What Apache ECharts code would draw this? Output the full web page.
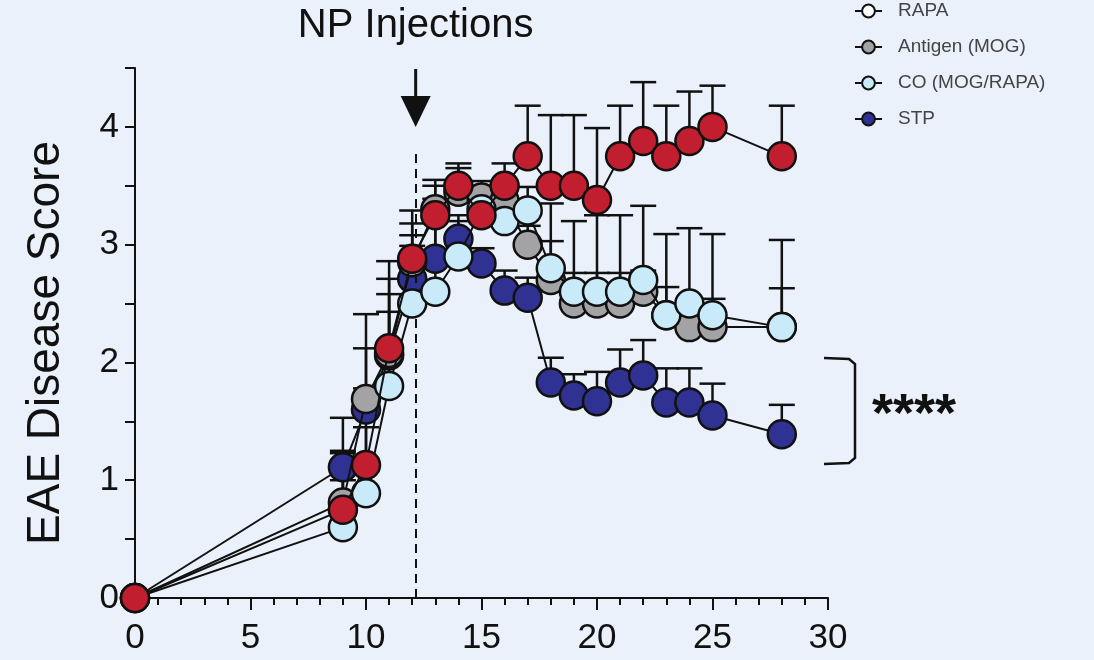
<!DOCTYPE html>
<html>
<head>
<meta charset="utf-8">
<title>EAE Disease Score</title>
<script src="https://cdn.jsdelivr.net/npm/echarts@6/dist/echarts.min.js"></script>
<style>
  html, body { margin: 0; padding: 0; background: #eaf1fb; }
  #chart { width: 1094px; height: 660px; }
</style>
</head>
<body>
<div id="chart"></div>
<script>
// days after immunization
const days = [0, 9, 10, 11, 12, 13, 14, 15, 16, 17, 18, 19, 20, 21, 22, 23, 24, 25, 28];

// mean scores + upper error (SEM) per group
const pbsMean = [0, 0.75, 1.13, 2.12, 2.88, 3.25, 3.5, 3.25, 3.5, 3.75, 3.5, 3.5, 3.38, 3.75, 3.88, 3.75, 3.88, 4.0, 3.75];
const pbsErr = [0, 0.48, 0.65, 0.74, 0.41, 0.3, 0.19, 0.24, 0.19, 0.43, 0.6, 0.6, 0.61, 0.43, 0.5, 0.43, 0.42, 0.35, 0.43];

const mogMean = [0, 0.81, 1.69, 2.08, 2.85, 3.3, 3.45, 3.4, 3.37, 3.0, 2.7, 2.5, 2.5, 2.5, 2.6, 2.4, 2.3, 2.3, 2.3];
const mogErr = [0, 0.44, 0.72, 0.63, 0.33, 0.2, 0.2, 0.14, 0.13, 0.16, 0.33, 0.26, 0.26, 0.26, 0.18, 0.24, 0.25, 0.24, 0.33];

const coMean = [0, 0.6, 0.89, 1.8, 2.5, 2.6, 2.9, 3.3, 3.2, 3.29, 2.8, 2.6, 2.6, 2.6, 2.7, 2.4, 2.5, 2.4, 2.3];
const coErr = [0, 0.4, 0.56, 0.63, 0.49, 0.79, 0.3, 0.2, 0.2, 0.2, 0.55, 0.6, 0.65, 0.65, 0.63, 0.69, 0.64, 0.69, 0.74];

const stpMean = [0, 1.11, 1.6, 2.06, 2.71, 2.88, 3.05, 2.84, 2.61, 2.55, 1.83, 1.72, 1.67, 1.83, 1.89, 1.66, 1.66, 1.55, 1.39];
const stpErr = [0, 0.42, 0.52, 0.52, 0.37, 0.37, 0.2, 0.13, 0.17, 0.17, 0.21, 0.18, 0.25, 0.28, 0.3, 0.29, 0.29, 0.27, 0.25];

const injectionDay = 12.15;
const xTicks = [0, 5, 10, 15, 20, 25, 30];
const yTicks = [0, 1, 2, 3, 4];

const INK = "#111";
const textFont = "'Liberation Sans', Arial, sans-serif";

function points(mean) {
  return days.map((d, i) => [d, mean[i]]);
}
function bars(mean, err) {
  return days.map((d, i) => [d, mean[i], mean[i] + err[i]]).filter((r) => r[2] > r[1]);
}

function renderErr(params, api) {
  const p0 = api.coord([api.value(0), api.value(1)]);
  const p1 = api.coord([api.value(0), api.value(2)]);
  const st = { stroke: INK, lineWidth: 2.5 };
  return {
    type: "group",
    children: [
      { type: "line", shape: { x1: p0[0], y1: p0[1], x2: p1[0], y2: p1[1] }, style: st },
      { type: "line", shape: { x1: p1[0] - 13, y1: p1[1], x2: p1[0] + 13, y2: p1[1] }, style: st }
    ]
  };
}

function lineSeries(name, mean, fill, z) {
  return {
    name: name,
    type: "line",
    data: points(mean),
    z: z,
    clip: false,
    symbol: "circle",
    symbolSize: 28,
    lineStyle: { color: INK, width: 2 },
    itemStyle: { color: fill, borderColor: INK, borderWidth: 2.5 },
    emphasis: { disabled: true }
  };
}
function errSeries(mean, err) {
  return {
    type: "custom",
    data: bars(mean, err),
    renderItem: renderErr,
    z: 1,
    silent: true,
    clip: false
  };
}

const chart = echarts.init(document.getElementById("chart"));

const red = lineSeries("Untreated", pbsMean, "#c11f2f", 6);
red.markLine = {
  silent: true,
  symbol: "none",
  label: { show: false },
  lineStyle: { color: INK, width: 2, type: [9, 6] },
  data: [[{ coord: [injectionDay, 0] }, { coord: [injectionDay, 3.8] }]]
};

chart.setOption({
  animation: false,
  backgroundColor: "#eaf1fb",
  grid: { left: 135, right: 266, top: 68, bottom: 62 },
  legend: {
    data: ["RAPA", "Antigen (MOG)", "CO (MOG/RAPA)", "STP"],
    orient: "vertical",
    left: 849,
    top: -4,
    itemWidth: 27,
    itemHeight: 16,
    itemGap: 16,
    selectedMode: false,
    textStyle: { fontFamily: textFont, fontSize: 19, color: "#444", lineHeight: 20, padding: [0, 0, 0, 11] }
  },
  xAxis: {
    type: "value",
    min: 0,
    max: 30,
    interval: 5,
    axisLine: { lineStyle: { color: INK, width: 2 } },
    axisTick: { length: 12, lineStyle: { color: INK, width: 2 } },
    minorTick: { show: true, splitNumber: 5, length: 7, lineStyle: { color: INK, width: 2 } },
    splitLine: { show: false },
    axisLabel: {
      fontFamily: textFont, fontSize: 35, color: INK, margin: 23,
      formatter: (v) => (xTicks.includes(v) ? String(v) : "")
    }
  },
  yAxis: {
    type: "value",
    min: 0,
    max: 4.5,
    interval: 0.5,
    name: "EAE Disease Score",
    nameLocation: "middle",
    nameGap: 66,
    nameTextStyle: { fontFamily: textFont, fontSize: 46, color: INK, padding: [0, 20, 0, 0] },
    axisLine: { lineStyle: { color: INK, width: 2 } },
    axisTick: { length: 10, lineStyle: { color: INK, width: 2 } },
    splitLine: { show: false },
    axisLabel: {
      fontFamily: textFont, fontSize: 35, color: INK, margin: 16,
      formatter: (v) => (yTicks.includes(v) ? String(v) : "")
    }
  },
  series: [
    errSeries(stpMean, stpErr),
    errSeries(mogMean, mogErr),
    errSeries(coMean, coErr),
    errSeries(pbsMean, pbsErr),
    lineSeries("RAPA", [], "#ffffff", 2),
    lineSeries("STP", stpMean, "#2f3293", 3),
    lineSeries("Antigen (MOG)", mogMean, "#a3a3a6", 4),
    lineSeries("CO (MOG/RAPA)", coMean, "#c9eaf9", 5),
    red
  ]
});

// annotations: injection arrow + label, significance bracket
const arrowTop = chart.convertToPixel({ gridIndex: 0 }, [injectionDay, 4.5]);
const arrowTip = chart.convertToPixel({ gridIndex: 0 }, [injectionDay, 4.0]);
const ax = arrowTip[0];
chart.setOption({
  graphic: [
    {
      type: "text",
      x: ax,
      y: 6,
      style: { text: "NP Injections", align: "center", verticalAlign: "top", font: "40px " + textFont, fill: INK }
    },
    {
      type: "line",
      shape: { x1: ax, y1: arrowTop[1] + 1, x2: ax, y2: arrowTip[1] - 28 },
      style: { stroke: INK, lineWidth: 3 }
    },
    {
      type: "polygon",
      shape: { points: [[ax - 15, arrowTip[1] - 31], [ax + 15, arrowTip[1] - 31], [ax, arrowTip[1]]] },
      style: { fill: INK }
    },
    {
      type: "polyline",
      shape: { points: [[824, 358], [849, 359], [855, 364], [855, 458], [849, 463], [824, 464]] },
      style: { stroke: INK, lineWidth: 2.5, fill: null }
    },
    {
      type: "text",
      x: 872,
      y: 389,
      style: { text: "****", font: "bold 54px " + textFont, fill: INK, verticalAlign: "top" }
    }
  ]
});
</script>
</body>
</html>
